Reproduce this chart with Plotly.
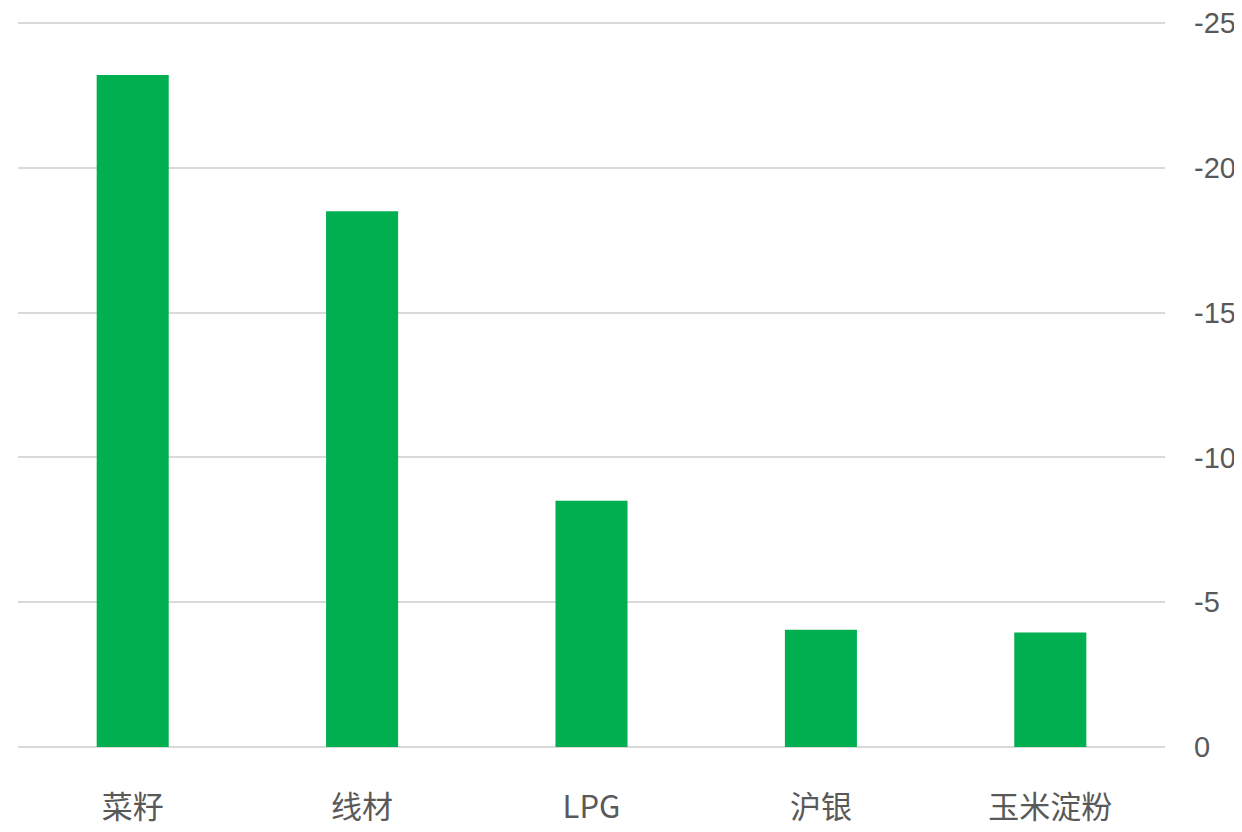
import plotly.graph_objects as go

categories = ["菜籽", "线材", "LPG", "沪银", "玉米淀粉"]
values = [-23.2, -18.5, -8.5, -4.05, -3.95]
tick_vals = [0, -5, -10, -15, -20, -25]
tick_text = ["0", "-5", "-10", "-15", "-20", "-25"]

fig = go.Figure(go.Bar(
    x=categories, y=values,
    marker=dict(color="#00B050", line=dict(width=0)),
))

fig.update_layout(
    width=1234, height=824,
    margin=dict(l=10, r=77, t=12, b=85),
    paper_bgcolor="white", plot_bgcolor="white",
    bargap=0.686,
    showlegend=False,
    font=dict(family="Liberation Sans, Noto Sans CJK SC, sans-serif", color="#595959"),
)
fig.update_xaxes(
    showgrid=False, showline=False, ticks="", automargin=False,
    tickfont=dict(size=31, family="Noto Sans CJK SC, sans-serif", color="#595959"),
    ticklabelstandoff=39,
)
fig.update_yaxes(
    side="right", range=[0, -25.1], automargin=False,
    tickvals=tick_vals, ticktext=tick_text,
    showgrid=True, gridcolor="#d9d9d9", gridwidth=2,
    zeroline=True, zerolinecolor="#d9d9d9", zerolinewidth=2,
    showline=False, ticks="",
    tickfont=dict(size=29, family="Liberation Sans, sans-serif", color="#595959"),
    ticklabelstandoff=28, ticklabeloverflow="allow",
)

fig.write_html("out.html")
